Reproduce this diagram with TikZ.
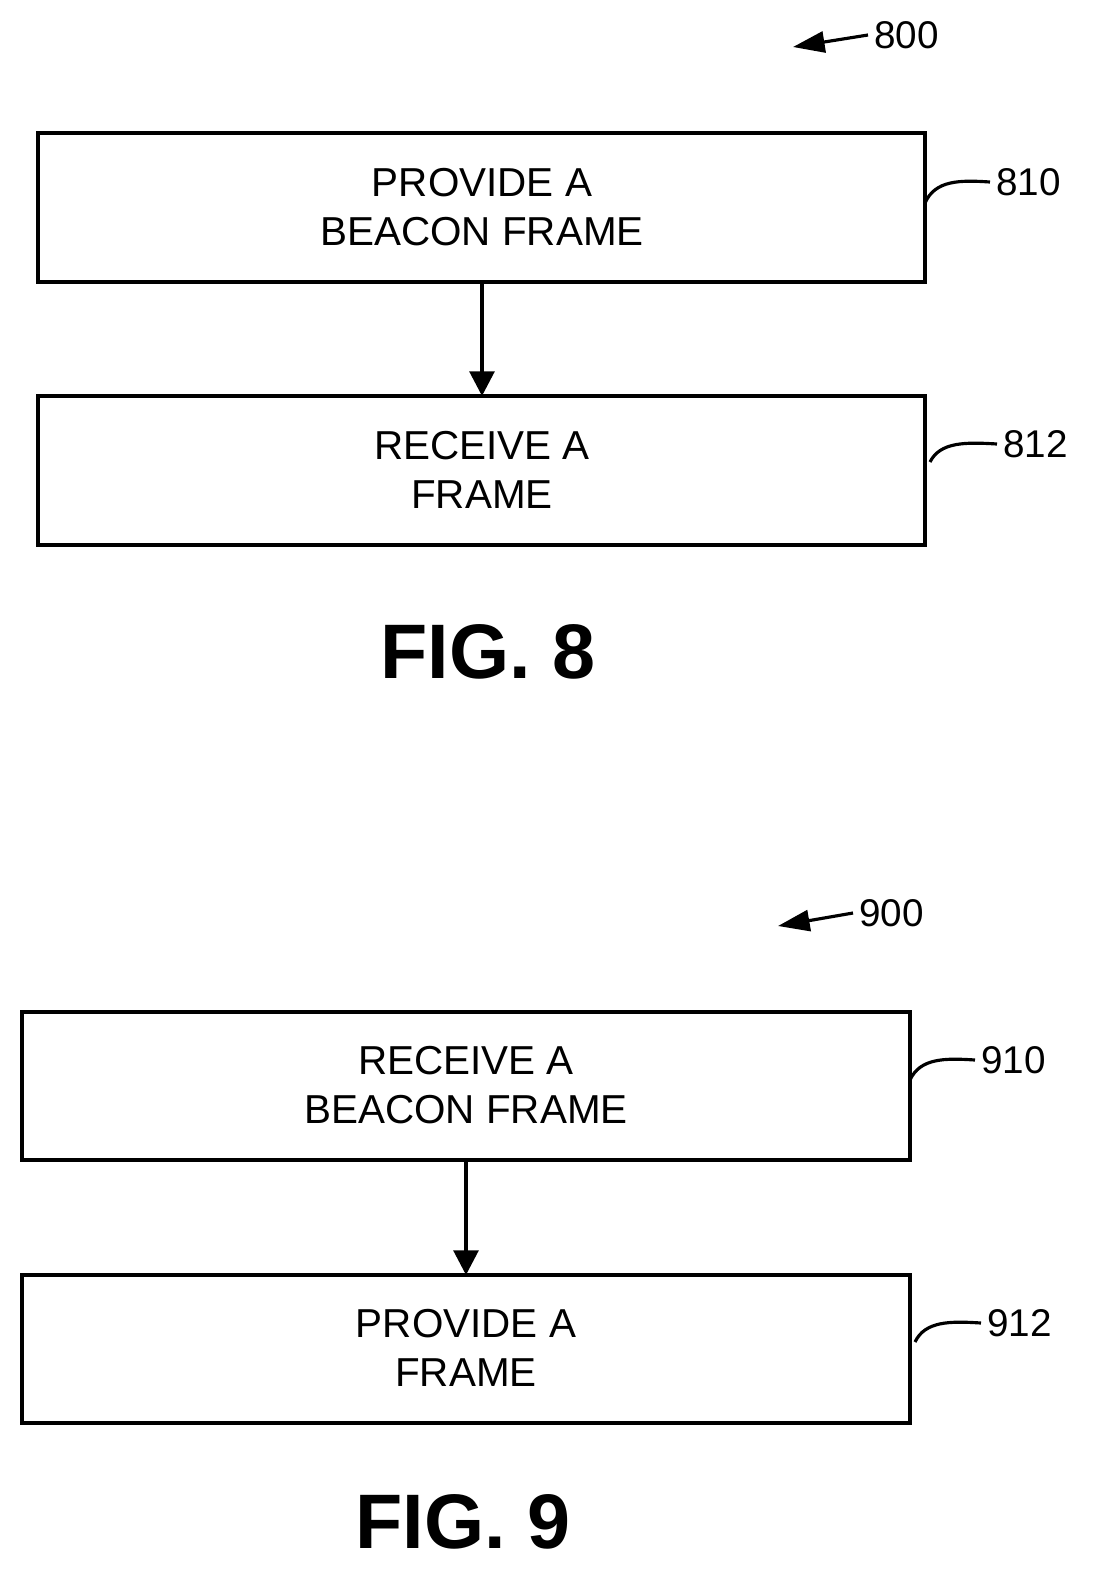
\documentclass[tikz,border=0pt]{standalone}
\usepackage{fontspec}
\setmainfont{Liberation Sans}
\usetikzlibrary{arrows.meta}
\begin{document}
\begin{tikzpicture}[x=0.02cm,y=-0.02cm,
  box/.style={draw,line width=2.2pt,inner sep=0},
  txt/.style={font=\fontsize{23}{27.5}\selectfont,align=center},
  num/.style={font=\fontsize{22}{26}\selectfont},
  fig/.style={font=\fontsize{44}{50}\selectfont\bfseries},
  arr/.style={line width=2.2pt,-{Triangle[length=14pt,width=14pt]}},
  lead/.style={line width=1.8pt},
  ref/.style={line width=1.8pt,-{Triangle[length=18pt,width=12pt]}}]
\useasboundingbox (0,0) rectangle (1102,1593);
% FIG 8
\draw[box] (38,133) rectangle (925,282);
\node[txt] (b810) at (482,207) {PROVIDE A\\BEACON FRAME};
\coordinate (b810r) at (925,205);
\draw[box] (38,396) rectangle (925,545);
\node[txt] (b812) at (482,470) {RECEIVE A\\FRAME};
\coordinate (a1) at (482,282); \coordinate (a2) at (482,396);
\draw[arr] (a1) -- (a2);
\node[num,anchor=west] (n810) at (990,182) {810};
\draw[lead] (925,203) .. controls (935,180) and (960,180) .. (n810.west);
\node[num,anchor=west] (n812) at (997,444) {812};
\draw[lead] (930,462) .. controls (940,442) and (965,442) .. (n812.west);
\node[num,anchor=west] (n800) at (868,35) {800};
\coordinate (t800) at (793,47);
\draw[ref] (n800.west) -- (t800);
\node[fig] (f8) at (488,652) {FIG. 8};
% FIG 9
\draw[box] (22,1012) rectangle (910,1160);
\node[txt] (b910) at (466,1085) {RECEIVE A\\BEACON FRAME};
\draw[box] (22,1275) rectangle (910,1423);
\node[txt] (b912) at (466,1348) {PROVIDE A\\FRAME};
\coordinate (c1) at (466,1160); \coordinate (c2) at (466,1275);
\draw[arr] (c1) -- (c2);
\node[num,anchor=west] (n910) at (975,1060) {910};
\draw[lead] (910,1080) .. controls (920,1058) and (945,1058) .. (n910.west);
\node[num,anchor=west] (n912) at (981,1323) {912};
\draw[lead] (915,1342) .. controls (925,1321) and (950,1321) .. (n912.west);
\node[num,anchor=west] (n900) at (853,913) {900};
\coordinate (t900) at (778,926);
\draw[ref] (n900.west) -- (t900);
\node[fig] (f9) at (463,1522) {FIG. 9};
\end{tikzpicture}
\end{document}
